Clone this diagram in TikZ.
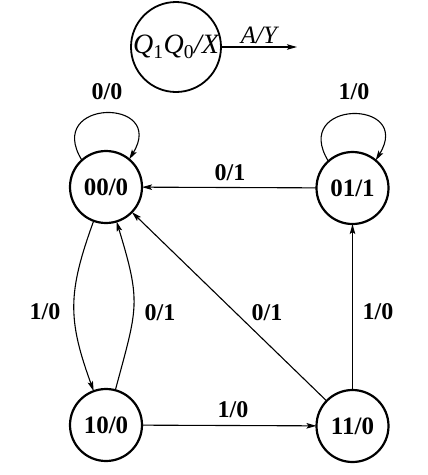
\documentclass[tikz,border=0pt]{standalone}
\usepackage{fontspec}
\setmainfont{Liberation Serif}
\usetikzlibrary{arrows.meta}
\begin{document}
\begin{tikzpicture}[x=1pt,y=-1pt,
  state/.style={circle,draw,line width=2.2pt,minimum size=72pt,inner sep=0pt,outer sep=0pt,
    font=\fontsize{25}{27}\selectfont\bfseries},
  edge/.style={line width=1.1pt,-{Stealth[length=10pt,width=5.5pt,inset=2pt]}},
  lbl/.style={font=\fontsize{24}{26}\selectfont\bfseries,inner sep=0pt}]
\useasboundingbox (0,0) rectangle (428,475);
% legend
\node[circle,draw,line width=1.8pt,minimum size=90pt,inner sep=0pt,outer sep=0pt,
  font=\fontsize{28}{30}\selectfont\itshape] (leg) at (176,47)
  {Q\textsubscript{\upshape 1}Q\textsubscript{\upshape 0}/X};
\coordinate (legend end) at (297,47);
\draw[edge] (leg.east) -- node[above=3pt,font=\fontsize{25}{27}\selectfont\itshape,inner sep=0pt] (lgl) {A/Y} (legend end);
% states
\node[state] (n00) at (106,187) {00/0};
\node[state] (n01) at (352.5,188) {01/1};
\node[state] (n10) at (106,425) {10/0};
\node[state] (n11) at (352.5,426) {11/0};
% self loops
\draw[edge] (n00.132) .. controls +(-38,-62) and +(38,-62) .. (n00.50);
\node[lbl] (l00) at (107,92) {0/0};
\draw[edge] (n01.132) .. controls +(-38,-62) and +(38,-62) .. (n01.50);
\node[lbl] (l01) at (354,92) {1/0};
% transitions
\draw[edge] (n01) -- (n00);
\node[lbl] (la) at (230,173) {0/1};
\draw[edge] (n11) -- (n01);
\node[lbl] (lb) at (378,312) {1/0};
\draw[edge] (n10) -- (n11);
\node[lbl] (lc) at (233,410) {1/0};
\draw[edge] (n11) -- (n00);
\node[lbl] (ld) at (267,313) {0/1};
\draw[edge] (n00.250) to[out=250,in=110,looseness=1.15] (n10.110);
\node[lbl] (le) at (45,312) {1/0};
\draw[edge] (n10.75) to[out=75,in=287,looseness=1.3] (n00.287);
\node[lbl] (lf) at (160,313) {0/1};
\end{tikzpicture}
\end{document}
